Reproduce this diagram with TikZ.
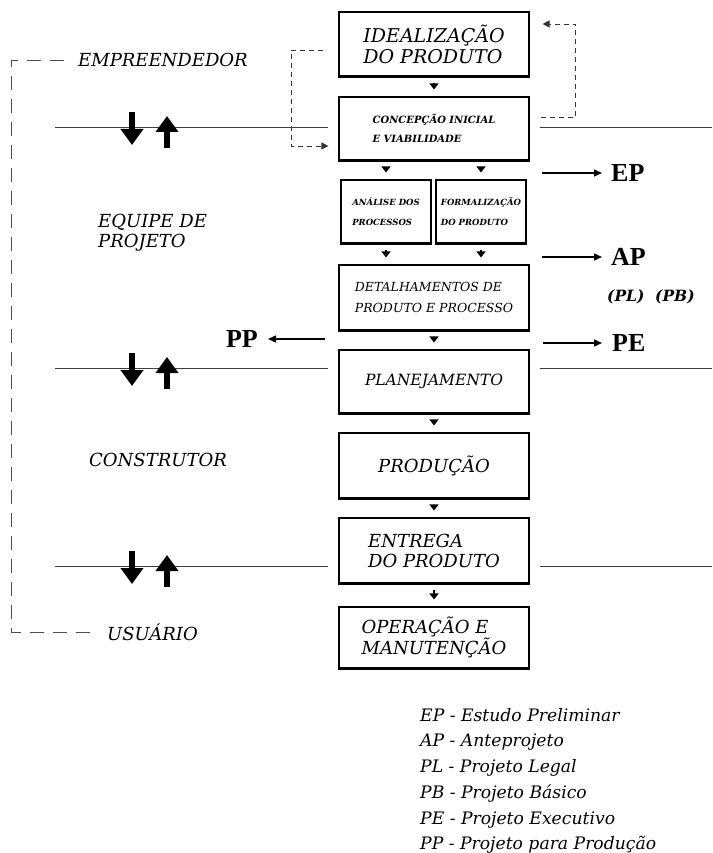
\documentclass[tikz,border=0pt]{standalone}
\usepackage{fontspec}
\usetikzlibrary{arrows.meta}
\newfontfamily\slabfont{DejaVu Serif}
\newfontfamily\timesfont{Liberation Serif}
\newcommand\tam[2]{\fontsize{#1}{#2}\selectfont}

\begin{document}
\begin{tikzpicture}[x=1pt,y=-1pt,
    etapa/.style={draw, line width=1.1pt, minimum width=190pt, inner sep=0pt, align=left},
    miniet/.style={etapa, minimum width=90pt, minimum height=63pt, font=\slabfont\bfseries\itshape\tam{8.5}{20}},
    passo/.style={line width=1.2pt, -{Triangle[length=6pt,width=9pt]}, shorten <=6pt, shorten >=7pt},
    divisa/.style={line width=0.9pt, black!75},
    setagrande/.style={line width=6pt, -{Triangle[length=16pt,width=22pt]}},
    retorno/.style={dash pattern=on 5pt off 4pt, line width=0.7pt, black!80, -{Triangle[length=7pt,width=7pt]}},
    chave/.style={dash pattern=on 14pt off 9pt, line width=0.7pt, black!70},
    agente/.style={font=\slabfont\itshape\tam{18}{20}, anchor=west, align=left, inner sep=0pt},
    sigla/.style={font=\timesfont\bfseries\tam{26}{28}, inner sep=0pt},
    saida/.style={line width=1.3pt, -{Triangle[length=8pt,width=7pt]}}]

    \useasboundingbox (0,0) rectangle (712,853);

    % etapas do processo
    \node[etapa, minimum height=64pt, font=\slabfont\itshape\tam{19}{21}] (idea) at (434,44) {IDEALIZAÇÃO\\DO PRODUTO};
    \node[etapa, minimum height=63pt, font=\slabfont\bfseries\itshape\tam{10}{19}] (conc) at (434,128.5) {CONCEPÇÃO INICIAL\\E VIABILIDADE};
    \node[miniet] (anal) at (386,211.5) {ANÁLISE DOS\\PROCESSOS};
    \node[miniet] (form) at (481,211.5) {FORMALIZAÇÃO\\DO PRODUTO};
    \node[etapa, minimum height=65pt, font=\slabfont\itshape\tam{12.5}{21}] (detal) at (434,297.5) {DETALHAMENTOS DE\\PRODUTO E PROCESSO};
    \node[etapa, minimum height=63pt, font=\slabfont\itshape\tam{15.5}{18}] (plan) at (434,381.5) {PLANEJAMENTO};
    \node[etapa, minimum height=65pt, font=\slabfont\itshape\tam{18}{20}] (prod) at (434,465.5) {PRODUÇÃO};
    \node[etapa, minimum height=65pt, font=\slabfont\itshape\tam{18}{20}] (entr) at (434,550.5) {ENTREGA\\DO PRODUTO};
    \node[etapa, minimum height=61pt, font=\slabfont\itshape\tam{18}{21}] (oper) at (434,637.5) {OPERAÇÃO E\\MANUTENÇÃO};

    \foreach \b in {idea,conc,anal,form,detal,plan,prod,entr,oper}
        \draw[line width=2.4pt] (\b.south west) -- (\b.south east);

    \draw[passo] (idea) -- (conc);
    \draw[passo] (anal.north |- conc.south) -- (anal);
    \draw[passo] (form.north |- conc.south) -- (form);
    \draw[passo] (anal) -- (anal.south |- detal.north);
    \draw[passo] (form) -- (form.south |- detal.north);
    \draw[passo] (detal) -- (plan);
    \draw[passo] (plan) -- (prod);
    \draw[passo] (prod) -- (entr);
    \draw[passo] (entr) -- (oper);

    % retornos tracejados
    \draw[retorno] ([xshift=-15pt,yshift=-6pt]idea.west) -| ([xshift=-47pt,yshift=-17.5pt]conc.west) -- ([xshift=-10pt,yshift=-17.5pt]conc.west);
    \draw[retorno] ([xshift=11pt,yshift=11.5pt]conc.east) -| ([xshift=46pt,yshift=20pt]idea.east) -- ([xshift=13pt,yshift=20pt]idea.east);

    % agentes
    \node[agente] (empr) at (78,60) {EMPREENDEDOR};
    \node[agente] (equi) at (98,233) {EQUIPE DE\\PROJETO};
    \node[agente] (cons) at (89,460) {CONSTRUTOR};
    \node[agente] (usu) at (107,632) {USUÁRIO};
    \draw[chave] ([xshift=-14pt]empr.west) -| ([xshift=-96pt]usu.west) -- ([xshift=-14pt]usu.west);

    % divisas entre agentes
    \foreach \lin in {127,368,566} {
        \draw[divisa] (55,\lin) -- (328,\lin);
        \draw[divisa] (540,\lin) -- (712,\lin);
        \draw[setagrande] (132,\lin-15) -- (132,\lin+18);
        \draw[setagrande] (167,\lin+21) -- (167,\lin-11);
    }

    % produtos do projeto
    \node[sigla, anchor=west] (ep) at (611,173) {EP};
    \node[sigla, anchor=west] (ap) at (611,257) {AP};
    \node[sigla, anchor=west] (pe) at (612,343) {PE};
    \node[anchor=west, inner sep=0pt, font=\slabfont\bfseries\itshape\tam{15.5}{18}] (plpb) at (607,297) {(PL)\ \ (PB)};
    \node[sigla, anchor=east] (pp) at (258,339) {PP};
    \draw[saida] (542,0 |- ep.west) -- ([xshift=-9pt]ep.west);
    \draw[saida] (542,0 |- ap.west) -- ([xshift=-9pt]ap.west);
    \draw[saida] (543,0 |- pe.west) -- ([xshift=-10pt]pe.west);
    \draw[saida] (325,0 |- pp.east) -- ([xshift=10pt]pp.east);

    % legenda
    \node[anchor=north west, inner sep=0pt, align=left, font=\slabfont\itshape\tam{17.2}{25.7}] (legenda) at (420,708) {EP - Estudo Preliminar\\AP - Anteprojeto\\PL - Projeto Legal\\PB - Projeto Básico\\PE - Projeto Executivo\\PP - Projeto para Produção};
\end{tikzpicture}
\end{document}
